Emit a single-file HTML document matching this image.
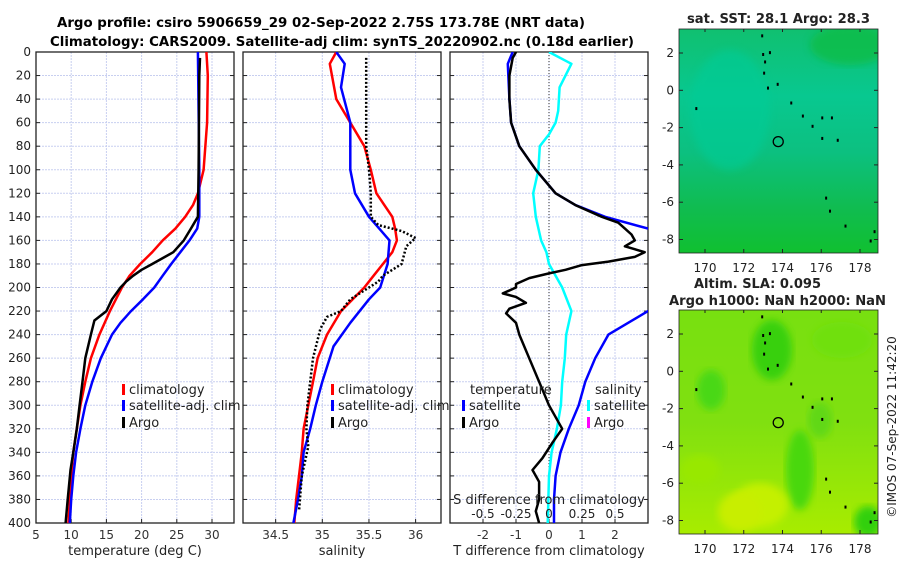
<!DOCTYPE html>
<html><head><meta charset="utf-8"><style>
body{margin:0;background:#fff;}
svg{display:block;font-family:"DejaVu Sans","Liberation Sans",sans-serif;}
</style></head><body>
<svg id="fig" width="900" height="580" viewBox="0 0 900 580">
<defs>
<linearGradient id="sstg" x1="0" y1="0" x2="0" y2="1">
<stop offset="0" stop-color="#10c070"/><stop offset="0.3" stop-color="#08c890"/><stop offset="0.55" stop-color="#0cc080"/><stop offset="0.8" stop-color="#10bc50"/><stop offset="1" stop-color="#10c030"/></linearGradient>
<linearGradient id="slag" x1="0" y1="0" x2="0" y2="1">
<stop offset="0" stop-color="#78e010"/><stop offset="0.5" stop-color="#80e010"/><stop offset="1" stop-color="#a8ec00"/></linearGradient>
<filter id="bl"><feGaussianBlur stdDeviation="4"/></filter>
<clipPath id="c1"><rect x="36" y="52" width="198" height="471"/></clipPath>
<clipPath id="c2"><rect x="243" y="52" width="198" height="471"/></clipPath>
<clipPath id="c3"><rect x="450" y="52" width="198" height="471"/></clipPath>
<clipPath id="cm1"><rect x="679" y="29" width="199" height="224"/></clipPath>
<clipPath id="cm2"><rect x="679" y="310" width="199" height="224"/></clipPath>
</defs>
<text x="57" y="27" font-size="13" font-weight="bold" textLength="528" lengthAdjust="spacingAndGlyphs">Argo profile: csiro 5906659_29 02-Sep-2022 2.75S 173.78E (NRT data)</text>
<text x="50" y="46" font-size="13" font-weight="bold" textLength="584" lengthAdjust="spacingAndGlyphs">Climatology: CARS2009. Satellite-adj clim: synTS_20220902.nc (0.18d earlier)</text>
<g id="g"></g>
</svg>
<script>
const tClimD=[0,20,60,100,120,130,140,150,160,170,180,190,200,220,240,260,280,300,320,340,360,380,400];
const tClimV=[29.2,29.4,29.3,28.8,28.0,27.3,26.2,24.8,23.0,21.5,19.8,18.3,17.2,15.5,14.0,12.8,12.0,11.3,10.8,10.3,10.0,9.8,9.6];
const tSatD=[0,50,100,140,150,160,170,180,190,200,210,220,230,240,260,280,300,320,340,360,380,400];
const tSatV=[28.0,28.1,28.2,28.2,27.9,26.8,25.5,24.2,23.0,21.8,20.2,18.5,17.0,15.8,14.2,13.0,12.0,11.3,10.7,10.3,10.0,9.8];
const tArgoD=[5,20,100,140,145,150,160,170,175,180,185,190,195,200,210,220,228,240,260,280,300,320,340,355,380,400];
const tArgoV=[28.3,28.2,28.1,28.0,27.5,27.0,26.0,24.5,23.0,21.5,20.0,18.8,17.8,17.0,15.8,15.0,13.3,12.8,12.0,11.6,11.2,10.8,10.3,9.9,9.5,9.2];
const sClimD=[0,10,40,60,80,100,120,140,150,160,170,180,190,200,220,240,260,280,300,320,340,360,380,400];
const sClimV=[35.15,35.08,35.15,35.3,35.45,35.52,35.58,35.75,35.78,35.8,35.75,35.65,35.55,35.45,35.2,35.05,34.95,34.9,34.85,34.8,34.78,34.75,34.72,34.7];
const sSatD=[0,10,30,60,80,100,120,140,160,180,200,210,230,250,280,300,320,340,360,380,400];
const sSatV=[35.15,35.24,35.2,35.3,35.3,35.3,35.35,35.5,35.72,35.7,35.62,35.5,35.3,35.12,35.0,34.93,34.87,34.8,34.78,34.74,34.69];
const sArgoD=[5,80,100,120,140,147,152,158,165,180,190,195,210,220,225,235,260,280,300,320,335,360,390];
const sArgoV=[35.47,35.47,35.5,35.52,35.52,35.6,35.85,36.0,35.9,35.85,35.65,35.6,35.3,35.2,35.05,34.98,34.9,34.87,34.84,34.83,34.85,34.78,34.75];
const dSatD=[0,10,40,60,80,100,120,130,140,150,155,215,220,240,260,280,300,320,340,360,380,400];
const dSatV=[-1.1,-1.25,-1.2,-1.15,-0.9,-0.4,0.2,0.8,1.7,3.0,3.5,3.5,3.0,1.8,1.4,1.1,0.9,0.6,0.35,0.2,0.15,0.15];
const dArgoD=[0,5,20,40,60,80,100,120,130,140,145,150,155,160,165,170,174,178,181,185,188,192,197,200,205,208,213,218,222,230,240,260,280,300,320,328,332,345,355,365,380,390,400];
const dArgoV=[-1.0,-1.1,-1.2,-1.2,-1.15,-0.9,-0.4,0.2,0.8,1.6,2.1,2.3,2.5,2.6,2.3,2.9,2.6,1.8,1.0,0.5,0.0,-0.6,-1.0,-1.0,-1.4,-1.0,-0.7,-1.2,-1.3,-1.0,-0.9,-0.6,-0.3,0.0,0.4,0.2,0.1,-0.2,-0.5,-0.3,-0.3,-0.4,-0.3];
const dSalD=[0,10,30,50,60,70,80,100,120,140,160,170,180,190,200,220,240,260,280,300,320,340,360,400];
const dSalV=[0.0,0.17,0.08,0.07,0.05,0.0,-0.07,-0.08,-0.12,-0.1,-0.06,-0.02,0.0,0.05,0.1,0.17,0.13,0.12,0.1,0.09,0.06,0.02,0.0,-0.01];
const depthTicks=[0,20,40,60,80,100,120,140,160,180,200,220,240,260,280,300,320,340,360,380,400];
const tTicks=[5,10,15,20,25,30];
const sTicks=[34.5,35,35.5,36];
const dTicks=[-2,-1,0,1,2];
const dsTicks=["-0.5","-0.25","0","0.25","0.5"];
const latTicks=[2,0,-2,-4,-6,-8];
const lonTicks=[170,172,174,176,178];

const NS="http://www.w3.org/2000/svg";
const G=document.getElementById('g');
function el(t,a,p){const e=document.createElementNS(NS,t);for(const k in a)e.setAttribute(k,a[k]);(p||G).appendChild(e);return e;}
const Y0=52,Y1=523;
const yD=d=>Y0+d/400*(Y1-Y0);
const xT=v=>36+(v-5)*(176/25);
const xS=v=>243+(v-34.15)*93.3;
const xDT=v=>549+v*33;
const xDS=v=>549+v*132;

function panel(x0,name,xticks,xf,labels){
  const g=el('g',{});
  
  
  xticks.forEach((t,i)=>{const x=xf(t);el('line',{x1:x,y1:Y0,x2:x,y2:Y1,stroke:'#c8cff0','stroke-width':1,'stroke-dasharray':'2,1'},g);});
  depthTicks.forEach(d=>{const y=yD(d);el('line',{x1:x0,y1:y,x2:x0+198,y2:y,stroke:'#c8cff0','stroke-width':1,'stroke-dasharray':'2,1'},g);
    el('line',{x1:x0,y1:y,x2:x0+4,y2:y,stroke:'#222'},g);el('line',{x1:x0+194,y1:y,x2:x0+198,y2:y,stroke:'#222'},g);});
  xticks.forEach((t,i)=>{const x=xf(t);el('line',{x1:x,y1:Y1,x2:x,y2:Y1-4,stroke:'#222'},g);
    const tx=el('text',{x:x,y:539,'text-anchor':'middle','font-size':12,fill:'#333'},g);tx.textContent=labels?labels[i]:t;});
  el('rect',{x:x0,y:Y0,width:198,height:Y1-Y0,fill:'none',stroke:'#222','stroke-width':1.3},g);
  return g;
}
function line(D,V,xf,color,clip,name,w,dash){
  const p=el('polyline',{points:D.map((d,i)=>xf(V[i]).toFixed(1)+','+yD(d).toFixed(1)).join(' '),fill:'none',stroke:color,'stroke-width':w||2.5,'clip-path':'url(#'+clip+')','stroke-linejoin':'round'});
  if(dash)p.setAttribute('stroke-dasharray',dash);
  
  
}
function txt(x,y,s,size,name,anchor,extra){const t=el('text',Object.assign({x:x,y:y,'font-size':size,fill:'#222','text-anchor':anchor||'start'},extra||{}));t.textContent=s;
  
  return t;}

panel(36,'temperature-panel',tTicks,xT);
depthTicks.forEach(d=>{txt(31,yD(d)+4,String(d),12,'y-tick-label','end');});
line(tClimD,tClimV,xT,'#f00','c1','temp-climatology-line');
line(tSatD,tSatV,xT,'#00f','c1','temp-satellite-line');
line(tArgoD,tArgoV,xT,'#000','c1','temp-argo-line');
txt(135,555,'temperature (deg C)',13,'x-axis-title-temperature','middle');
panel(243,'salinity-panel',sTicks,xS);
line(sClimD,sClimV,xS,'#f00','c2','sal-climatology-line');
line(sSatD,sSatV,xS,'#00f','c2','sal-satellite-line');
line(sArgoD,sArgoV,xS,'#000','c2','sal-argo-line',2.5,'2,2');
txt(342,555,'salinity',13,'x-axis-title-salinity','middle');
panel(450,'difference-panel',dTicks,xDT);
el('line',{x1:549,y1:Y0,x2:549,y2:Y1,stroke:'#333','stroke-width':1,'stroke-dasharray':'1,2'});
line(dSalD,dSalV,xDS,'#0ff','c3','sal-diff-satellite-line');
line(dSatD,dSatV,xDT,'#00f','c3','temp-diff-satellite-line');
line(dArgoD,dArgoV,xDT,'#000','c3','temp-diff-argo-line');
txt(549,555,'T difference from climatology',13,'x-axis-title-tdiff','middle');
txt(549,504,'S difference from climatology',13,'s-diff-axis-title','middle');
dsTicks.forEach((s,i)=>{txt(xDT(dTicks[i]),518,s,12,'s-diff-tick-label','middle');});

function leg(x,y,color,label,name){const r=el('rect',{x:x,y:y-10,width:3,height:11,fill:color});
  
  txt(x+7,y,label,13,name);}
leg(122,394,'#f00','climatology','legend-climatology');
leg(122,410,'#00f','satellite-adj. clim','legend-satellite-adj');
leg(122,427,'#000','Argo','legend-argo');
leg(331,394,'#f00','climatology','legend-climatology-2');
leg(331,410,'#00f','satellite-adj. clim','legend-satellite-adj-2');
leg(331,427,'#000','Argo','legend-argo-2');
txt(470,394,'temperature',13,'legend-temperature-heading');
leg(462,410,'#00f','satellite','legend-temp-satellite');
leg(462,427,'#000','Argo','legend-temp-argo');
txt(595,394,'salinity',13,'legend-salinity-heading');
leg(587,410,'#0ff','satellite','legend-sal-satellite');
leg(587,427,'#f0f','Argo','legend-sal-argo');

const xL=l=>705+(l-170)*19.375;
function map(y0,lat2y,fill,name){
  const g=el('g',{});
  
  
  const yL=l=>lat2y+(2-l)*18.65;
  el('rect',{x:679,y:y0,width:199,height:224,fill:fill},g);
  return {g,yL};
}
const m1=map(29,53,'url(#sstg)','sst-map');
el('ellipse',{cx:730,cy:110,rx:40,ry:60,fill:'#04cc98',opacity:0.6,filter:'url(#bl)','clip-path':'url(#cm1)'},m1.g);
el('ellipse',{cx:850,cy:45,rx:40,ry:20,fill:'#10bc40',opacity:0.7,filter:'url(#bl)','clip-path':'url(#cm1)'},m1.g);
const m2=map(310,334,'url(#slag)','sla-map');
[[772,350,20,30,'#38d010'],[711,390,14,20,'#48d818'],[842,340,30,18,'#70e010'],[800,470,14,40,'#48d810'],[760,505,28,22,'#c4f000'],[740,512,22,20,'#c8ee00'],[868,522,14,16,'#30d010'],[820,420,12,18,'#60d818'],[700,470,20,15,'#98e800']].forEach(b=>{
  el('ellipse',{cx:b[0],cy:b[1],rx:b[2],ry:b[3],fill:b[4],filter:'url(#bl)','clip-path':'url(#cm2)'},m2.g);});
[[29,m1],[310,m2]].forEach(([y0,m])=>{
  el('rect',{x:679,y:y0,width:199,height:224,fill:'none',stroke:'#222','stroke-width':0.8},m.g);
  latTicks.forEach(l=>{const y=m.yL(l);el('line',{x1:679,y1:y,x2:683,y2:y,stroke:'#222'},m.g);el('line',{x1:874,y1:y,x2:878,y2:y,stroke:'#222'},m.g);
    txt(674,y+4,String(l),12,'map-lat-tick','end');});
  lonTicks.forEach(l=>{const x=xL(l);el('line',{x1:x,y1:y0,x2:x,y2:y0+3,stroke:'#222'},m.g);el('line',{x1:x,y1:y0+224,x2:x,y2:y0+220,stroke:'#222'},m.g);
    txt(x,y0+243,String(l),12,'map-lon-tick','middle');});
  [[172.9,3.0],[172.95,2.0],[173.05,1.6],[173.0,1.0],[173.3,2.1],[173.2,0.2],[173.7,0.4],[174.4,-0.6],[175.0,-1.3],[175.5,-1.85],[176.0,-2.5],[176.8,-2.6],[176.0,-1.4],[176.5,-1.4],[169.5,-0.9],[178.7,-7.5],[178.5,-8.0],[177.2,-7.2],[176.2,-5.7],[176.4,-6.4]].forEach(p=>{
    el('rect',{x:xL(p[0]),y:m.yL(p[1]),width:2,height:3,fill:'#000'},m.g);});
  const c=el('circle',{cx:xL(173.78),cy:m.yL(-2.75),r:5,fill:'none',stroke:'#000','stroke-width':1.3},m.g);
  
  
});
txt(687,23,'sat. SST: 28.1 Argo: 28.3',13,'sst-map-title','start',{'font-weight':'bold',textLength:183,lengthAdjust:'spacingAndGlyphs'});
txt(694,288,'Altim. SLA: 0.095',13,'sla-map-title-1','start',{'font-weight':'bold',textLength:127,lengthAdjust:'spacingAndGlyphs'});
txt(669,305,'Argo h1000: NaN h2000: NaN',13,'sla-map-title-2','start',{'font-weight':'bold',textLength:217,lengthAdjust:'spacingAndGlyphs'});
txt(0,0,'©IMOS 07-Sep-2022 11:42:20',12,'copyright-timestamp','middle',{transform:'translate(896,427) rotate(-90)'});
</script>
</body></html>
